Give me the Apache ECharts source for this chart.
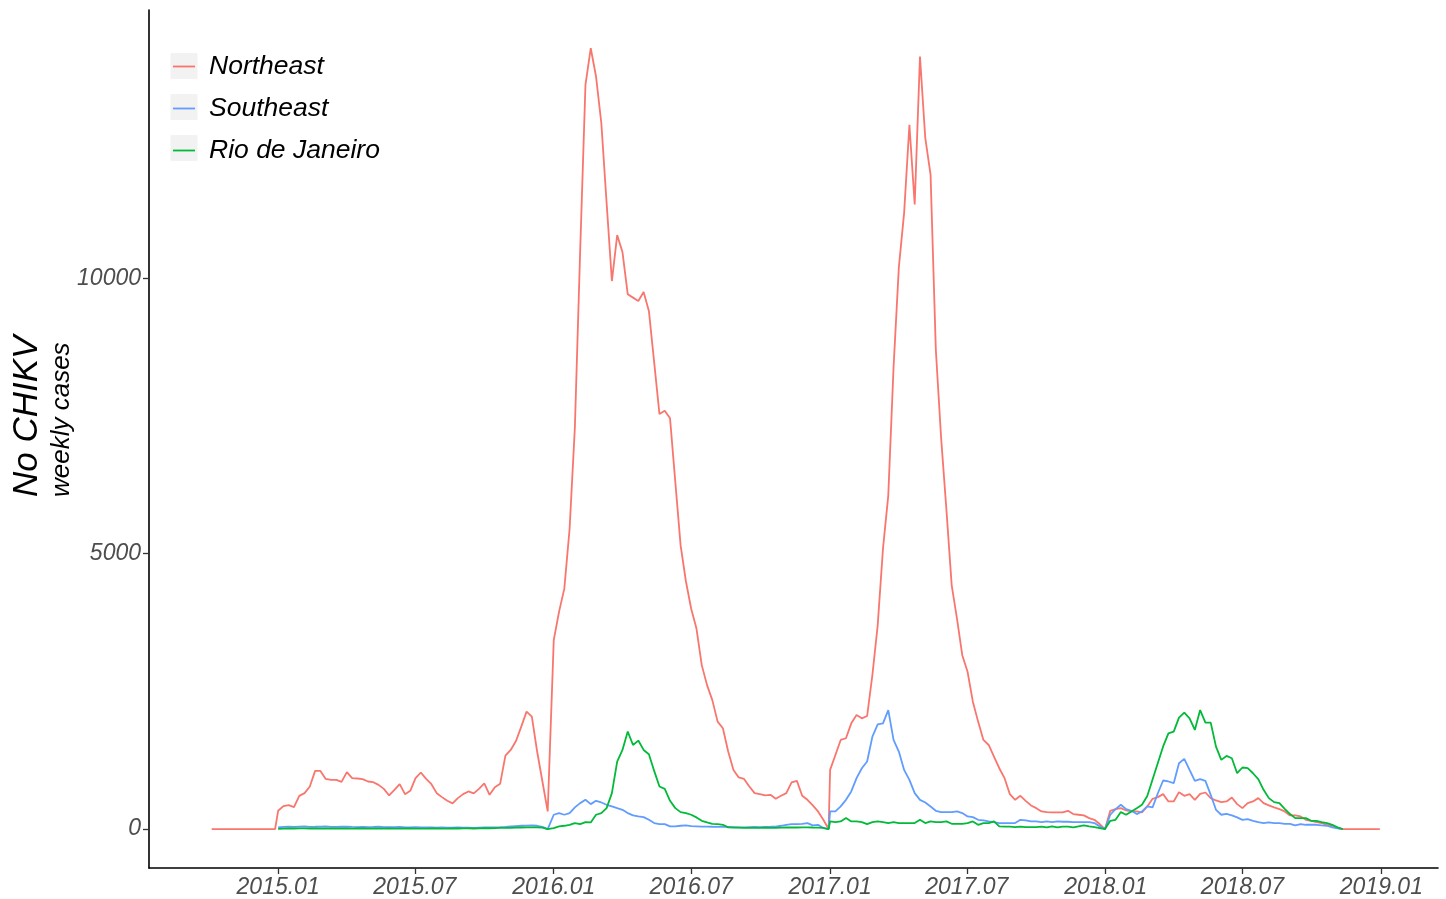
<!DOCTYPE html>
<html>
<head>
<meta charset="utf-8">
<script src="https://cdn.jsdelivr.net/npm/echarts@6/dist/echarts.min.js"></script>
<style>
html,body{margin:0;padding:0;background:#fff;}
#chart{width:1446px;height:899px;}
</style>
</head>
<body>
<div id="chart"></div>
<script>
// ---- Data (weekly reported CHIKV cases) ----
const seriesNames = ['Northeast', 'Southeast', 'Rio de Janeiro'];
const seasonStarts = ['2014-10-05', '2015-01-01', '2016-01-01', '2017-01-01', '2018-01-07'];
const tickDates = ['2015-01-01','2015-07-01','2016-01-01','2016-07-01','2017-01-01','2017-07-01','2018-01-01','2018-07-01','2019-01-01'];
const yTicks = [0, 5000, 10000];

// Northeast
const neLead = [0,0,0,0,0,0,0,0,0,0,0,0,0];
const ne2015 = [332,417,435,399,603,652,773,1056,1056,911,893,893,857,1033,924,918,906,864,851,803,730,610,712,815,634,694,924,1027,911,815,652,580,513,466,562,634,683,647,730,828,622,761,821,1335,1437,1600,1860,2132,2041,1408,864,320];
const ne2016 = [3430,3944,4366,5453,7300,10500,13515,14179,13665,12821,11371,9951,10785,10477,9710,9650,9589,9752,9408,8473,7536,7596,7458,6299,5151,4500,4000,3641,2977,2614,2342,1951,1830,1408,1074,937,911,773,652,634,610,622,549,604,652,846,875,604,531,429,320,168,0];
const ne2017 = [1074,1346,1618,1649,1920,2071,2011,2053,2800,3701,5091,6056,8382,10200,11190,12790,11341,14027,12549,11884,8700,7100,5800,4426,3822,3158,2857,2313,1951,1618,1527,1317,1105,924,634,531,604,513,429,380,320,308,302,302,302,332,272,260,248,199,168,91,0];
const ne2018 = [332,362,380,338,320,320,302,411,549,580,634,501,501,670,604,634,531,640,664,562,519,489,501,574,453,380,471,501,562,471,429,393,362,320,248,248,230,168,150,127,109,78,60,18,0,0,0,0,0,0,0,0];

// Southeast
const se2015 = [30,38,42,40,45,48,40,42,45,48,40,38,42,45,38,36,40,35,38,42,36,33,35,38,32,30,34,30,28,30,26,28,25,24,28,26,24,22,25,28,30,32,35,40,48,55,60,62,65,60,40,0];
const se2016 = [260,290,260,290,393,471,531,453,513,483,441,411,380,350,290,248,230,217,168,109,91,91,49,49,60,67,55,50,45,45,42,40,40,38,35,30,32,35,38,35,40,42,45,60,78,91,91,96,109,67,78,18,0];
const se2017 = [320,320,411,531,683,924,1105,1226,1679,1902,1920,2161,1618,1408,1074,893,652,531,483,411,332,308,308,308,320,290,230,217,168,157,139,127,109,109,109,109,168,157,139,139,127,139,127,139,133,133,127,127,127,127,109,49,0];
const se2018 = [260,362,441,362,332,272,320,411,393,650,882,864,833,1196,1274,1074,875,906,875,622,350,260,277,248,212,168,181,150,127,109,121,109,109,96,96,67,91,78,78,78,67,60,30,12,0];

// Rio de Janeiro
const rj2015 = [5,8,10,10,12,12,10,10,12,10,10,12,10,10,8,10,10,8,10,10,8,10,8,8,10,10,8,8,8,10,10,8,8,10,10,12,12,10,12,15,15,18,20,20,22,25,28,30,32,30,25,0];
const rj2016 = [18,49,60,78,109,91,127,121,260,290,380,652,1226,1437,1770,1527,1607,1437,1359,1056,773,730,513,380,308,290,260,212,150,121,96,91,78,30,25,25,20,20,22,20,25,22,20,25,28,30,28,30,32,28,25,20,0];
const rj2017 = [139,127,139,199,139,139,127,91,127,139,127,109,127,109,109,109,109,168,109,139,127,127,139,96,96,96,109,139,78,109,109,139,49,43,43,36,43,36,36,36,43,30,49,30,43,43,30,49,67,49,36,18,0];
const rj2018 = [150,168,308,260,320,380,441,600,900,1200,1500,1739,1770,2023,2114,2011,1800,2161,1933,1933,1498,1256,1328,1286,1014,1118,1105,1014,906,712,562,489,471,368,272,199,199,199,150,150,127,109,78,30,0];

// ---- Build series (weekly dates from each season start) ----
const DAY = 86400000;
function weekly(startISO, values) {
  const t0 = Date.parse(startISO + 'T00:00:00Z');
  return values.map((v, i) => [t0 + i * 7 * DAY, v]);
}
function build(segments, startIdx) {
  let out = [];
  segments.forEach((seg, j) => { out = out.concat(weekly(seasonStarts[startIdx + j], seg)); });
  return out;
}
const northeast = build([neLead, ne2015, ne2016, ne2017, ne2018], 0);
const southeast = build([se2015, se2016, se2017, se2018], 1);
const rio = build([rj2015, rj2016, rj2017, rj2018], 1);

const colors = ['#F8766D', '#619CFF', '#00BA38'];
const FONT = '"Liberation Sans", Arial, Helvetica, sans-serif';
const tickTimes = tickDates.map(d => Date.parse(d + 'T00:00:00Z'));

const chart = echarts.init(document.getElementById('chart'));
chart.setOption({
  animation: false,
  backgroundColor: '#ffffff',
  grid: { left: 149, right: 8, top: 10, bottom: 29, containLabel: false },
  legend: {
    orient: 'vertical', left: 173, top: 53, padding: 0,
    itemWidth: 22, itemHeight: 26, itemGap: 15,
    icon: 'path://M0,0H22V1.8H0Z',
    data: seriesNames,
    textStyle: { fontSize: 26.5, fontStyle: 'italic', color: '#000', fontFamily: FONT, padding: [4, 0, 0, 9] }
  },
  xAxis: {
    type: 'value',
    min: Date.parse('2014-07-14T00:00:00Z'),
    max: Date.parse('2019-03-17T00:00:00Z'),
    axisLine: { show: true, onZero: false, lineStyle: { color: '#000', width: 1.6 } },
    axisTick: { show: true, customValues: tickTimes, length: 6, lineStyle: { color: '#333', width: 1.3 } },
    axisLabel: {
      customValues: tickTimes, margin: 8,
      fontSize: 23, fontStyle: 'italic', color: '#4d4d4d', fontFamily: FONT,
      formatter: function (v) { const d = new Date(v); return d.getUTCFullYear() + '.' + String(d.getUTCMonth() + 1).padStart(2, '0'); }
    },
    splitLine: { show: false }
  },
  yAxis: {
    type: 'value', min: -707, max: 14873,
    axisLine: { show: true, onZero: false, lineStyle: { color: '#000', width: 1.6 } },
    axisTick: { show: true, customValues: yTicks, length: 6, lineStyle: { color: '#333', width: 1.3 } },
    axisLabel: { customValues: yTicks, margin: 8, fontSize: 23, fontStyle: 'italic', color: '#4d4d4d', fontFamily: FONT,
      formatter: function (v) { return String(v); } },
    splitLine: { show: false }
  },
  graphic: [
    { type: 'rect', z: 0, shape: { x: 170.5, y: 53, width: 27, height: 26 }, style: { fill: '#F2F2F2' } },
    { type: 'rect', z: 0, shape: { x: 170.5, y: 94, width: 27, height: 26 }, style: { fill: '#F2F2F2' } },
    { type: 'rect', z: 0, shape: { x: 170.5, y: 135, width: 27, height: 26 }, style: { fill: '#F2F2F2' } },
    { type: 'text', x: 27, y: 497, rotation: Math.PI / 2, style: { text: 'No CHIKV', font: 'italic 35px ' + FONT, fill: '#000', align: 'left', verticalAlign: 'middle' } },
    { type: 'text', x: 62, y: 497, rotation: Math.PI / 2, style: { text: 'weekly cases', font: 'italic 26px ' + FONT, fill: '#000', align: 'left', verticalAlign: 'middle' } }
  ],
  series: [
    { name: seriesNames[0], type: 'line', data: northeast, symbol: 'none', showSymbol: false, color: colors[0], lineStyle: { width: 1.8, color: colors[0] } },
    { name: seriesNames[1], type: 'line', data: southeast, symbol: 'none', showSymbol: false, color: colors[1], lineStyle: { width: 1.8, color: colors[1] } },
    { name: seriesNames[2], type: 'line', data: rio, symbol: 'none', showSymbol: false, color: colors[2], lineStyle: { width: 1.8, color: colors[2] } }
  ]
});
</script>
</body>
</html>
